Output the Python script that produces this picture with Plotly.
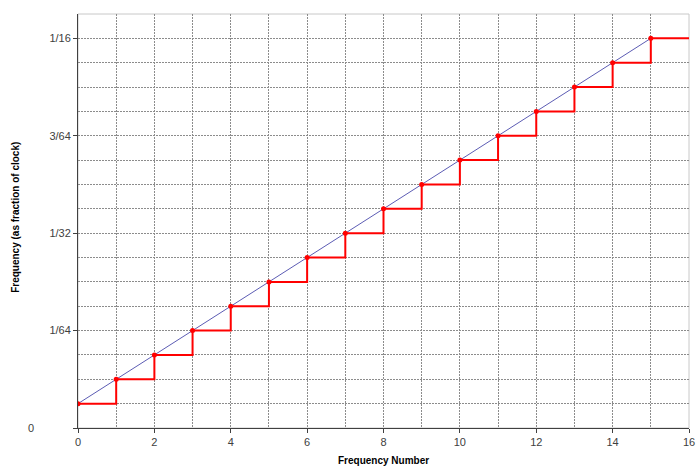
import plotly.graph_objects as go

# Data
freq_numbers = list(range(0, 16))             # 0..15
step_numerators = [n + 1 for n in freq_numbers]  # in units of 1/256
denominator = 256
freq_values = [v / denominator for v in step_numerators]

# step line runs to x=16 at last value
step_x = freq_numbers + [16]
step_y = freq_values + [freq_values[-1]]

y_tick_vals = [0, 1/64, 1/32, 3/64, 1/16]
y_tick_text = ["", "1/64", "1/32", "3/64", "1/16"]
x_tick_vals = list(range(0, 17, 2))

fig = go.Figure()

fig.add_trace(go.Scatter(
    x=freq_numbers, y=freq_values, mode="lines",
    line=dict(color="#5c5cb4", width=1), hoverinfo="skip", showlegend=False))

fig.add_trace(go.Scatter(
    x=step_x, y=step_y, mode="lines",
    line=dict(color="#ff0000", width=2, shape="hv"), showlegend=False))

fig.add_trace(go.Scatter(
    x=freq_numbers, y=freq_values, mode="markers",
    marker=dict(color="#ff0000", size=5), showlegend=False))

font_tick = dict(family="Liberation Sans, Arial, sans-serif", size=11, color="#404040")
font_title = dict(family="Liberation Sans, Arial, sans-serif", size=10, color="#000000")
grid_style = dict(showgrid=True, gridcolor="#8c8c8c", griddash="2px,1px", gridwidth=1)

fig.update_layout(
    width=700, height=473,
    margin=dict(l=78, r=11, t=14, b=45),
    paper_bgcolor="white", plot_bgcolor="white",
    font=font_tick,
    shapes=[dict(type="rect", xref="paper", yref="paper", x0=0, x1=1, y0=0, y1=1,
                 line=dict(color="#c8c8c8", width=1), layer="below")],
    annotations=[
        dict(text="0", x=0, xref="paper", y=0, yref="y", xshift=-47,
             showarrow=False, xanchor="center", yanchor="middle", font=font_tick),
        dict(text="<b>Frequency Number</b>", x=0.5, xref="paper", y=-0.0797, yref="paper",
             showarrow=False, xanchor="center", yanchor="middle", font=font_title),
        dict(text="<b>Frequency (as fraction of clock)</b>", x=-0.1015, xref="paper",
             y=0.51, yref="paper", textangle=-90,
             showarrow=False, xanchor="center", yanchor="middle", font=font_title),
    ],
    xaxis=dict(
        range=[0, 16], tickvals=x_tick_vals, ticks="outside", ticklen=4,
        tickcolor="#404040", showline=True, linecolor="#404040", linewidth=1,
        zeroline=False, automargin=False, **grid_style,
        minor=dict(dtick=1, **grid_style),
    ),
    yaxis=dict(
        range=[0, 17/256], tickvals=y_tick_vals, ticktext=y_tick_text, ticks="outside", ticklen=4,
        tickcolor="#404040", showline=True, linecolor="#404040", linewidth=1,
        zeroline=False, automargin=False, **grid_style,
        minor=dict(dtick=1/256, tick0=0, **grid_style),
    ),
)

fig.write_html("out.html", config={"displayModeBar": False},
               post_script="document.body.style.margin='0';document.body.style.overflow='hidden';")
